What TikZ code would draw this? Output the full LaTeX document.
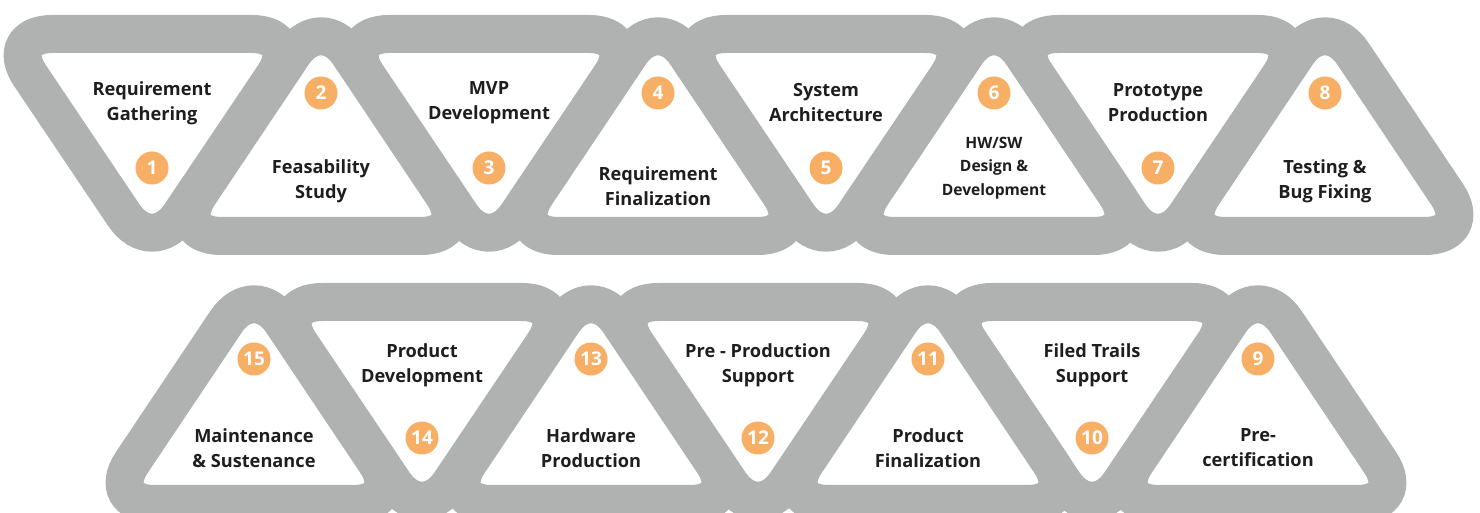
\documentclass[tikz,border=0pt]{standalone}
\usepackage{fontspec}
\setmainfont{Open Sans}
\usepackage{xcolor}
\usepackage{tikz}
\definecolor{bandgray}{HTML}{B0B2B2}
\definecolor{badgeorange}{HTML}{F7AE65}
\definecolor{labelblack}{HTML}{1E1E1E}
\tikzstyle{draw:band}=[draw=bandgray, fill=white, line width=19pt, rounded corners=25pt]
\tikzstyle{node:badge}=[circle, fill=badgeorange, minimum size=16.5pt, inner sep=0pt, text=white, font=\fontsize{9.5}{10}\selectfont\bfseries]
\tikzstyle{node:label}=[align=center, text=labelblack, font=\fontsize{9.1}{12.5}\selectfont\bfseries]
\tikzstyle{node:smalllabel}=[align=center, text=labelblack, font=\fontsize{7.8}{11.75}\selectfont\bfseries]

\begin{document}
\begin{tikzpicture}[x=0.5pt,y=-0.5pt]
        \clip (0,0) rectangle (1480,513);

        % Top row bands (down / up triangles)
        \foreach \cx in {152,489,826,1158} {
                \draw[draw:band] (\cx,34) -- (\cx+150,34) -- (\cx,257) -- (\cx-150,34) -- cycle;
            }
        \foreach \cx in {321,658,994,1325} {
                \draw[draw:band] (\cx,236) -- (\cx-150,236) -- (\cx,12) -- (\cx+150,236) -- cycle;
            }

        % Bottom row bands
        \foreach \cx in {422,758,1092} {
                \draw[draw:band] (\cx,302) -- (\cx+150,302) -- (\cx,525) -- (\cx-150,302) -- cycle;
            }
        \foreach \cx in {254,591,928,1258} {
                \draw[draw:band] (\cx,504) -- (\cx-150,504) -- (\cx,280) -- (\cx+150,504) -- cycle;
            }

        % Stages 1-8
        \node[node:label] (L1) at (152,103) {Requirement\\Gathering};
        \node[node:badge] (B1) at (152,168) {1};
        \node[node:badge] (B2) at (321,93) {2};
        \node[node:label] (L2) at (321,181) {Feasability\\Study};
        \node[node:label] (L3) at (489,103) {MVP\\Development};
        \node[node:badge] (B3) at (489,168) {3};
        \node[node:badge] (B4) at (658,93) {4};
        \node[node:label] (L4) at (658,186) {Requirement\\Finalization};
        \node[node:label] (L5) at (826,103) {System\\Architecture};
        \node[node:badge] (B5) at (826,168) {5};
        \node[node:badge] (B6) at (994,93) {6};
        \node[node:smalllabel] (L6) at (994,168) {HW/SW\\Design \&\\Development};
        \node[node:label] (L7) at (1158,103) {Prototype\\Production};
        \node[node:badge] (B7) at (1158,168) {7};
        \node[node:badge] (B8) at (1325,93) {8};
        \node[node:label] (L8) at (1325,181) {Testing \&\\Bug Fixing};

        % Stages 9-15 (right to left)
        \node[node:badge] (B9) at (1258,359) {9};
        \node[node:label] (L9) at (1258,448) {Pre-\\certification};
        \node[node:label] (L10) at (1092,365) {Filed Trails\\Support};
        \node[node:badge] (B10) at (1092,438) {10};
        \node[node:badge] (B11) at (928,359) {11};
        \node[node:label] (L11) at (928,448) {Product\\Finalization};
        \node[node:label] (L12) at (758,365) {Pre - Production\\Support};
        \node[node:badge] (B12) at (758,438) {12};
        \node[node:badge] (B13) at (591,359) {13};
        \node[node:label] (L13) at (591,448) {Hardware\\Production};
        \node[node:label] (L14) at (422,365) {Product\\Development};
        \node[node:badge] (B14) at (422,438) {14};
        \node[node:badge] (B15) at (254,359) {15};
        \node[node:label] (L15) at (254,448) {Maintenance\\\& Sustenance};
    \end{tikzpicture}
\end{document}
